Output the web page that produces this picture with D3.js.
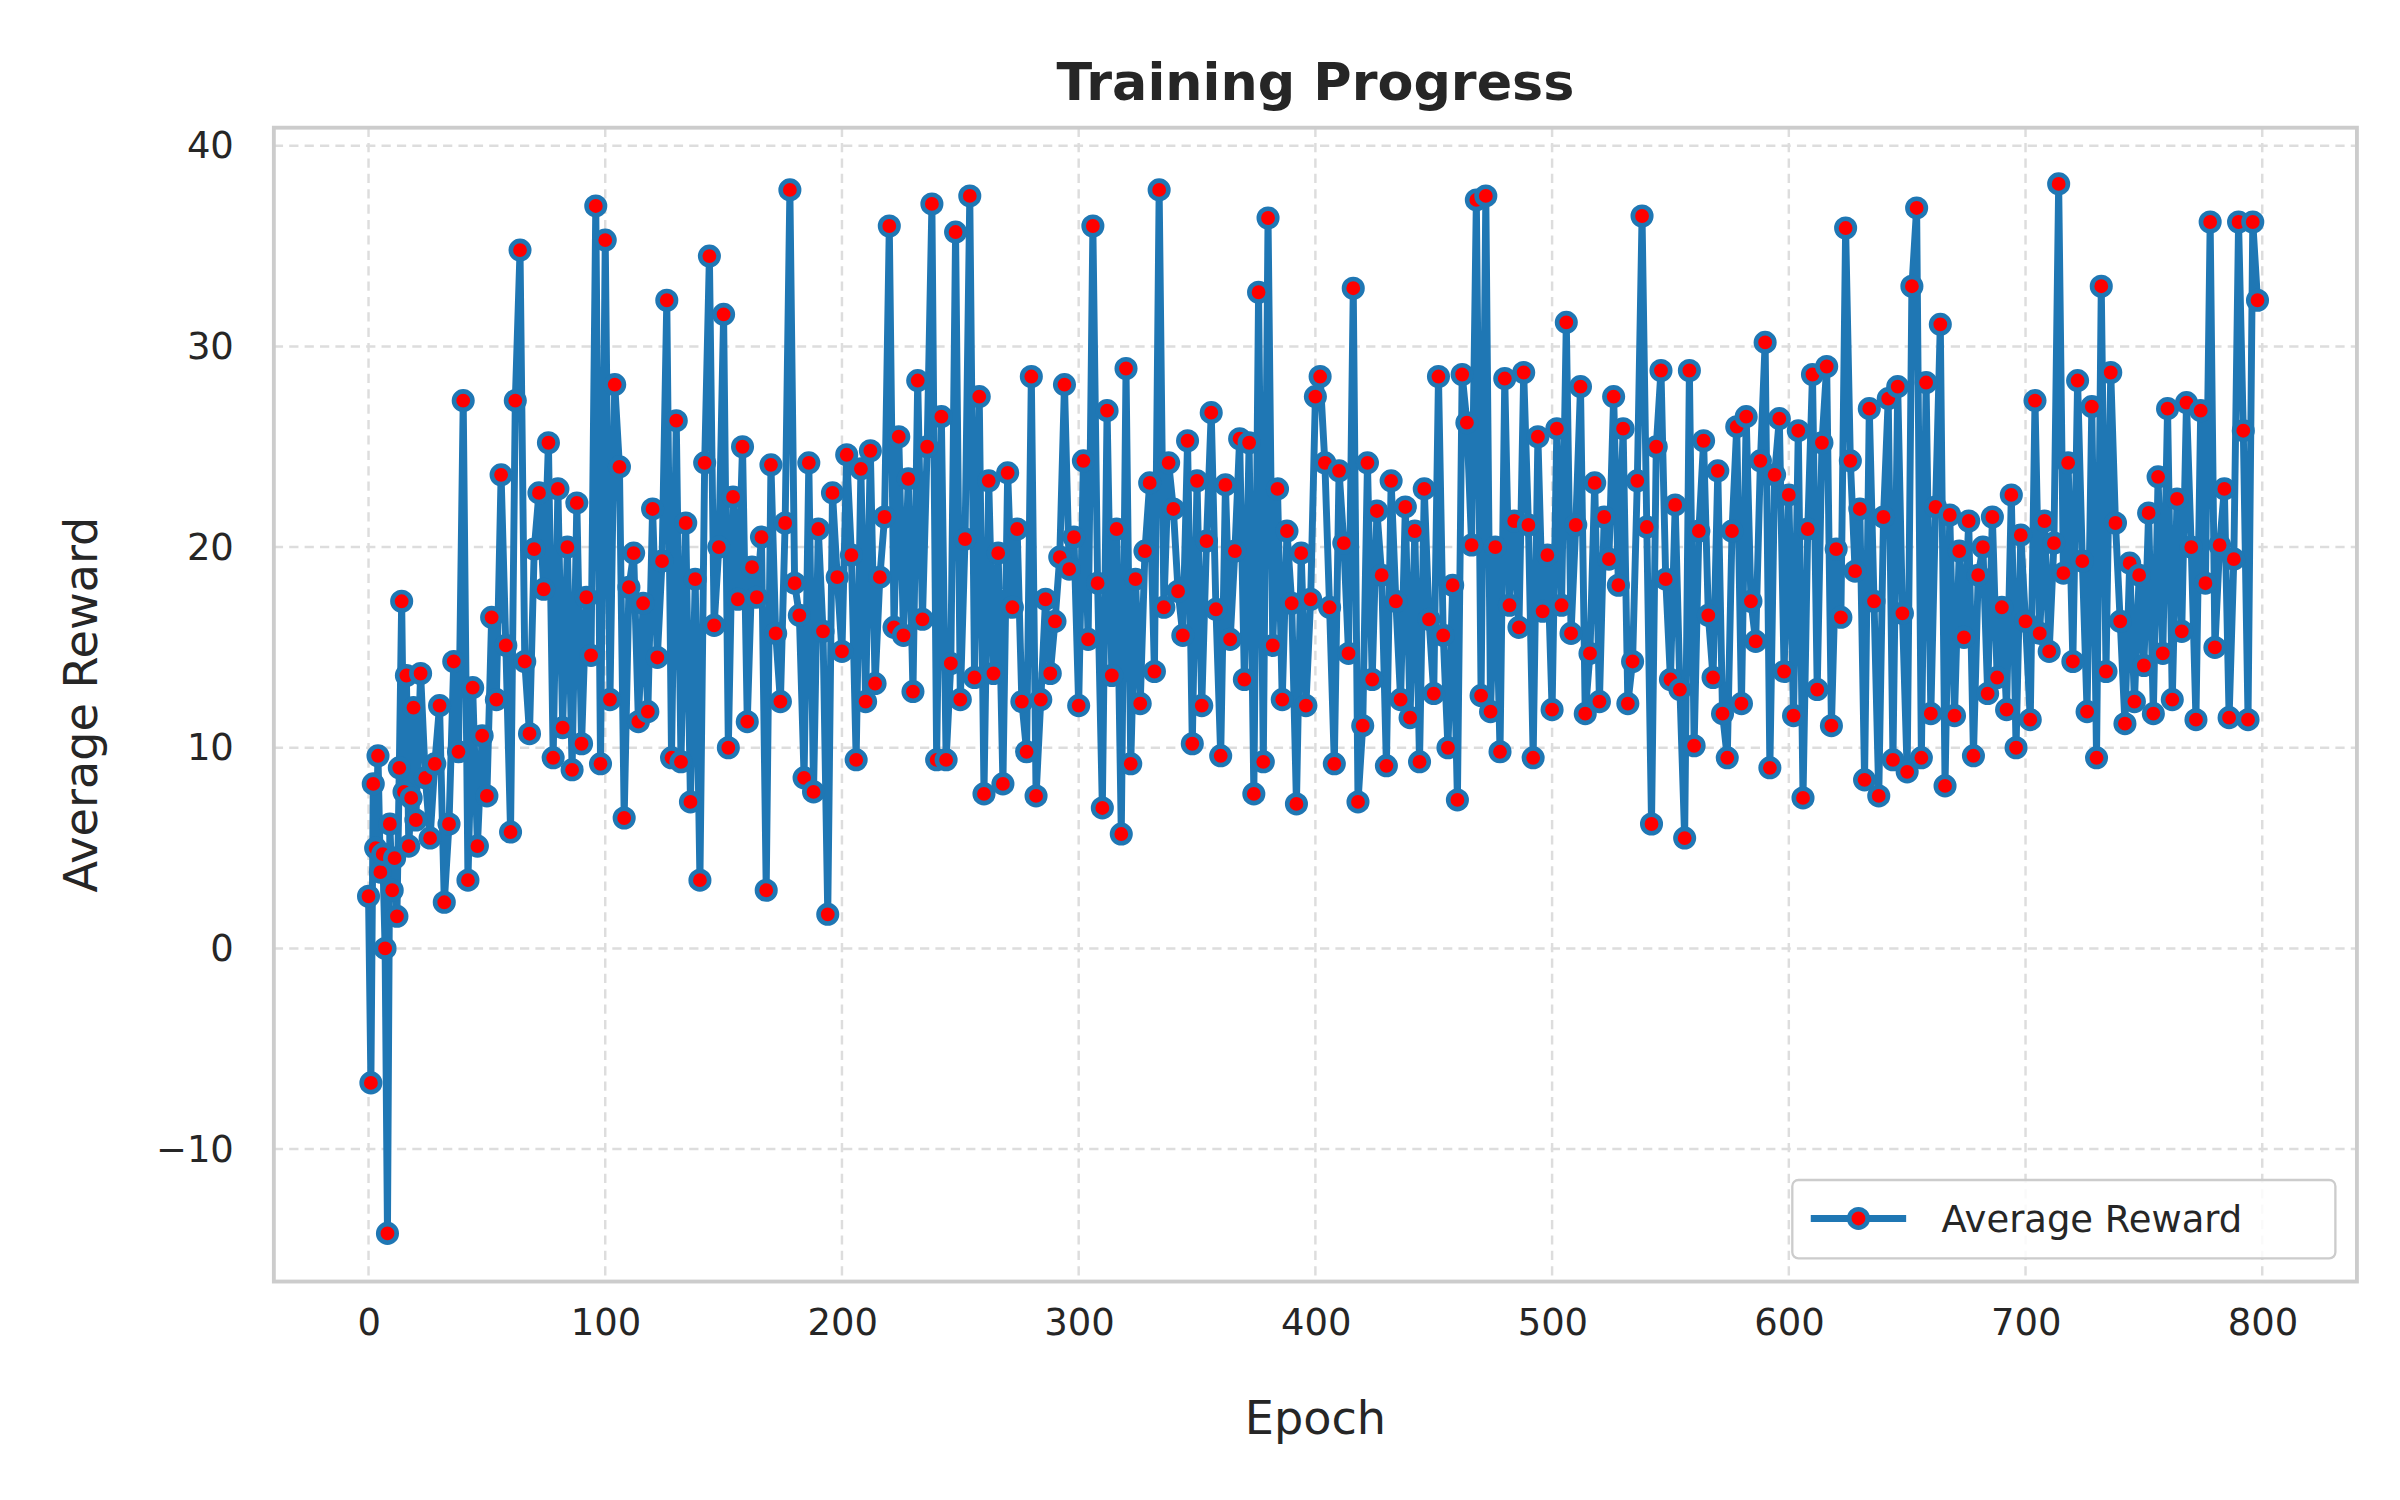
<!DOCTYPE html>
<html><head><meta charset="utf-8">
<script src="https://cdn.jsdelivr.net/npm/d3@7"></script>
<style>body{margin:0;background:#fff}svg{display:block}</style>
</head><body><div id="chart"></div>
<script>
// data
var title = "Training Progress";
var xLabel = "Epoch", yLabel = "Average Reward";
var xTicks = [0,100,200,300,400,500,600,700,800];
var yTicks = [-10,0,10,20,30,40];
var early = [2.6,-6.7,8.2,5.0,9.6,3.8,4.7,0.0,-14.2,6.2,2.9,4.5,1.6,9.0,17.3,7.8,13.6,5.1,7.5,12.0];
var rest = [
6.4,13.7,8.5,5.5,9.2,12.1,2.3,6.2,14.3,9.8,
27.3,3.4,13.0,5.1,10.6,7.6,16.5,12.4,23.6,15.1,
5.8,27.3,34.8,14.3,10.7,19.9,22.7,17.9,25.2,9.5,
22.9,11.0,20.0,8.9,22.2,10.2,17.5,14.6,37.0,9.2,
35.3,12.4,28.1,24.0,6.5,18.0,19.7,11.3,17.2,11.8,
21.9,14.5,19.3,32.3,9.5,26.3,9.3,21.2,7.3,18.4,
3.4,24.2,34.5,16.1,20.0,31.6,10.0,22.5,17.4,25.0,
11.3,19.0,17.5,20.5,2.9,24.1,15.7,12.3,21.2,37.8,
18.2,16.6,8.5,24.2,7.8,20.9,15.8,1.7,22.7,18.5,
14.8,24.6,19.6,9.4,23.9,12.3,24.8,13.2,18.5,21.5,
36.0,16.0,25.5,15.6,23.4,12.8,28.3,16.4,25.0,37.1,
9.4,26.5,9.4,14.2,35.7,12.4,20.4,37.5,13.5,27.5,
7.7,23.3,13.7,19.7,8.2,23.7,17.0,20.9,12.3,9.8,
28.5,7.6,12.4,17.4,13.7,16.3,19.5,28.1,18.9,20.5,
12.1,24.3,15.4,36.0,18.2,7.0,26.8,13.6,20.9,5.7,
28.9,9.2,18.4,12.2,19.8,23.2,13.8,37.8,17.0,24.2,
21.9,17.8,15.6,25.3,10.2,23.3,12.1,20.3,26.7,16.9,
9.6,23.1,15.4,19.8,25.4,13.4,25.2,7.7,32.7,9.3,
36.4,15.1,22.9,12.4,20.8,17.2,7.2,19.7,12.1,17.4,
27.5,28.5,24.2,17.0,9.2,23.8,20.2,14.7,32.9,7.3,
11.1,24.2,13.4,21.8,18.6,9.1,23.3,17.3,12.4,22.0,
11.5,20.8,9.3,22.9,16.4,12.7,28.5,15.6,10.0,18.1,
7.4,28.6,26.2,20.1,37.3,12.6,37.5,11.8,20.0,9.8,
28.4,17.1,21.3,16.0,28.7,21.1,9.5,25.5,16.8,19.6,
11.9,25.9,17.1,31.2,15.7,21.1,28.0,11.7,14.7,23.2,
12.3,21.5,19.4,27.5,18.1,25.9,12.2,14.3,23.3,36.5,
21.0,6.2,25.0,28.8,18.4,13.4,22.1,12.9,5.5,28.8,
10.1,20.8,25.3,16.6,13.5,23.8,11.7,9.5,20.8,26.0,
12.2,26.5,17.3,15.3,24.3,30.2,9.0,23.6,26.4,13.8,
22.6,11.6,25.8,7.5,20.9,28.6,12.9,25.2,29.0,11.1,
19.9,16.5,35.9,24.3,18.8,21.9,8.4,26.9,17.3,7.6,
21.5,27.4,9.4,28.0,16.7,8.8,33.0,36.9,9.5,28.2,
11.7,22.0,31.1,8.1,21.6,11.6,19.8,15.5,21.3,9.6,
18.6,20.0,12.7,21.5,13.5,17.0,11.9,22.6,10.0,20.6,
16.3,11.4,27.3,15.7,21.3,14.8,20.2,38.1,18.7,24.2,
14.3,28.3,19.3,11.8,27.0,9.5,33.0,13.8,28.7,21.2,
16.3,11.2,19.2,12.3,18.6,14.1,21.7,11.7,23.5,14.7,
26.9,12.4,22.4,15.8,27.2,20.0,11.4,26.8,18.2,36.2,
15.0,20.1,22.9,11.5,19.4,36.2,25.8,11.4,36.2,32.3];

// epochs: 1 apart for the first 20, then 2 apart
var data = early.map(function(v,i){ return {e:i, v:v}; })
  .concat(rest.map(function(v,i){ return {e:20+2*i, v:v}; }));

var W = 1560, H = 975;
var margin = {top: 83, right: 28, bottom: 142, left: 178},
    width = W - margin.left - margin.right,
    height = H - margin.top - margin.bottom;

var svg = d3.select("#chart").append("svg")
    .attr("width", 2400).attr("height", 1500)
    .attr("viewBox", "0 0 " + W + " " + H)
    .style("font-family", "DejaVu Sans, sans-serif");
var g = svg.append("g").attr("transform", "translate(" + margin.left + "," + margin.top + ")");

var x = d3.scaleLinear().domain([-40, 840]).range([0, width]);
var y = d3.scaleLinear().domain([-16.6, 40.9]).range([height, 0]);

// grid
g.append("g").selectAll("line").data(xTicks).enter().append("line")
  .attr("x1", d => x(d)).attr("x2", d => x(d)).attr("y1", 0).attr("y2", height)
  .attr("stroke", "#dddddd").attr("stroke-width", 1.6).attr("stroke-dasharray", "6,4");
g.append("g").selectAll("line").data(yTicks).enter().append("line")
  .attr("y1", d => y(d)).attr("y2", d => y(d)).attr("x1", 0).attr("x2", width)
  .attr("stroke", "#dddddd").attr("stroke-width", 1.6).attr("stroke-dasharray", "6,4");

// frame
g.append("rect").attr("width", width).attr("height", height)
  .attr("fill", "none").attr("stroke", "#cccccc").attr("stroke-width", 2.5);

// axes
var xa = g.append("g").attr("transform", "translate(0," + height + ")")
  .call(d3.axisBottom(x).tickValues(xTicks).tickSize(0).tickPadding(18));
var ya = g.append("g")
  .call(d3.axisLeft(y).tickValues(yTicks).tickSize(0).tickPadding(26)
    .tickFormat(d => d < 0 ? "\u2212" + Math.abs(d) : d));
[xa, ya].forEach(function(a){
  a.select(".domain").remove();
  a.selectAll("text").attr("font-size", 24).attr("fill", "#262626").attr("font-family", "DejaVu Sans, sans-serif");
});

// line + markers
g.append("path").datum(data)
  .attr("d", d3.line().x(d => x(d.e)).y(d => y(d.v)))
  .attr("fill", "none").attr("stroke", "#1f77b4").attr("stroke-width", 4.5)
  .attr("stroke-linejoin", "round");
g.append("g").selectAll("circle").data(data).enter().append("circle")
  .attr("cx", d => x(d.e)).attr("cy", d => y(d.v)).attr("r", 6)
  .attr("fill", "red").attr("stroke", "#1f77b4").attr("stroke-width", 3);

// labels
svg.append("text").attr("x", margin.left + width/2).attr("y", 65).attr("text-anchor", "middle")
  .attr("font-size", 34).attr("font-weight", "bold").attr("fill", "#262626").text(title);
svg.append("text").attr("x", margin.left + width/2).attr("y", 932).attr("text-anchor", "middle")
  .attr("font-size", 30).attr("fill", "#262626").text(xLabel);
svg.append("text").attr("transform", "translate(63," + (margin.top + height/2) + ") rotate(-90)")
  .attr("text-anchor", "middle").attr("font-size", 30).attr("fill", "#262626").text(yLabel);

// legend
var lg = svg.append("g").attr("transform", "translate(1165,767)");
lg.append("rect").attr("width", 353).attr("height", 51).attr("rx", 4)
  .attr("fill", "white").attr("fill-opacity", 0.85).attr("stroke", "#cccccc").attr("stroke-width", 1.5);
lg.append("line").attr("x1", 12).attr("x2", 74).attr("y1", 25).attr("y2", 25)
  .attr("stroke", "#1f77b4").attr("stroke-width", 4.5);
lg.append("circle").attr("cx", 43).attr("cy", 25).attr("r", 6)
  .attr("fill", "red").attr("stroke", "#1f77b4").attr("stroke-width", 3);
lg.append("text").attr("x", 97).attr("y", 34).attr("font-size", 24).attr("fill", "#262626").text(yLabel);
</script>
</body></html>
